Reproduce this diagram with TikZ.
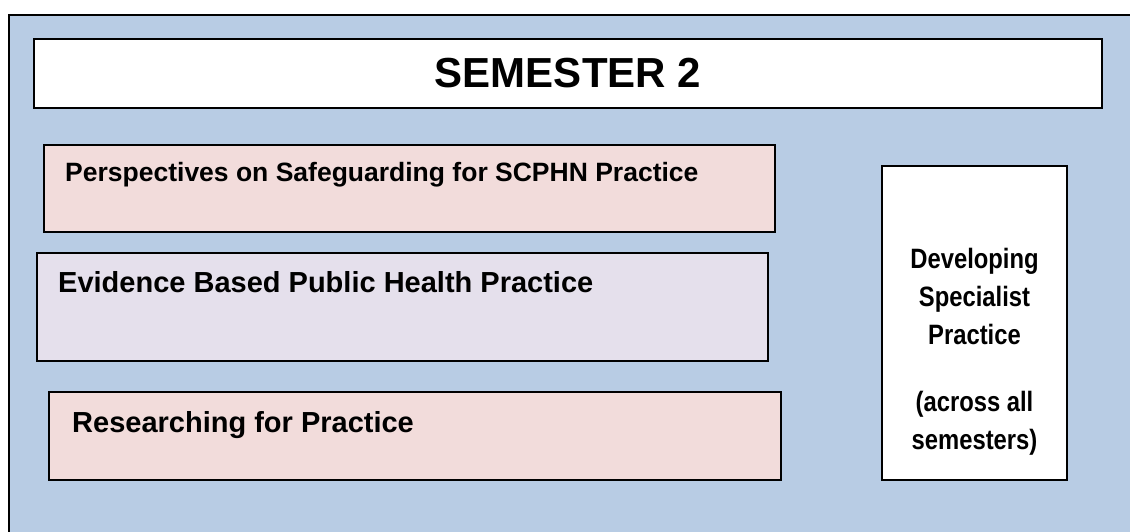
\documentclass[tikz,border=0pt]{standalone}
\usepackage{fontspec}
\setmainfont{Liberation Sans}
\newfontfamily\narrowfont{Liberation Sans}[FakeStretch=0.85]
\definecolor{frameblue}{HTML}{B8CCE4}
\definecolor{modpink}{HTML}{F2DCDB}
\definecolor{modlilac}{HTML}{E5E0EC}
\tikzset{
    modbox/.style={draw, rectangle, line width=1.6pt, inner sep=0pt},
    modtext/.style={anchor=base west, inner sep=0pt, font=\fontsize{29}{34}\selectfont\bfseries}
}
\begin{document}
\begin{tikzpicture}[x=1pt, y=-1pt]
    \useasboundingbox (0,0) rectangle (1130,531);
    \clip (0,0) rectangle (1130,531);
    \draw[line width=1.8pt, fill=frameblue] (9,15) rectangle (1145,545);

    \node[modbox, fill=white, minimum width=1068pt, minimum height=69pt,
          font=\fontsize{42}{50}\selectfont\bfseries] (title) at (568,73.5) {SEMESTER 2};

    \node[modbox, fill=modpink, minimum width=731pt, minimum height=87pt] (safe) at (409.5,188.5) {};
    \node[modbox, fill=modlilac, minimum width=731pt, minimum height=108pt] (evid) at (402.5,307) {};
    \node[modbox, fill=modpink, minimum width=732pt, minimum height=88pt] (research) at (415,436) {};
    \node[modbox, fill=white, minimum width=185pt, minimum height=314pt] (dsp) at (974.5,323) {};

    \node[modtext, font=\fontsize{26.5}{32}\selectfont\bfseries] (safetext) at (65,181) {Perspectives on Safeguarding for SCPHN Practice};
    \node[modtext] (evidtext) at (58,292) {Evidence Based Public Health Practice};
    \node[modtext] (researchtext) at (72,432) {Researching for Practice};
    \node[anchor=north, inner sep=0pt, align=center,
          font=\narrowfont\fontsize{28}{38}\selectfont\bfseries] (dsptext) at (974.5,248.5)
          {Developing\\Specialist\\Practice\\[29pt](across all\\semesters)};
\end{tikzpicture}
\end{document}
